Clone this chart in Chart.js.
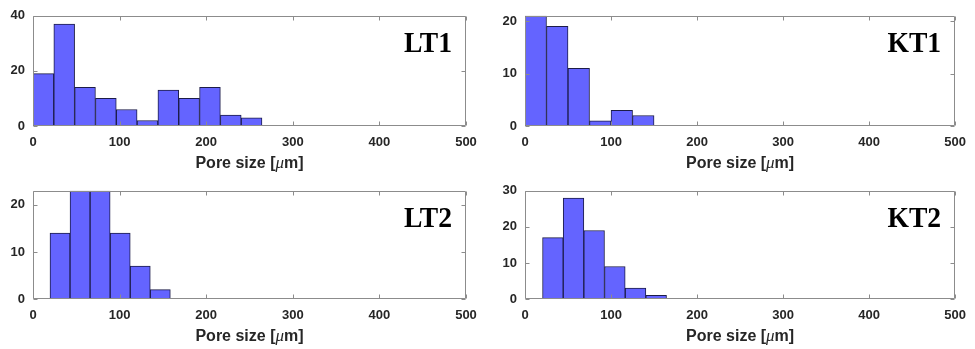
<!DOCTYPE html>
<html>
<head>
<meta charset="utf-8">
<script src="https://cdn.jsdelivr.net/npm/chart.js@4.4.0/dist/chart.umd.min.js"></script>
<style>
  html, body { margin: 0; padding: 0; background: #ffffff; }
  #wrap { position: relative; width: 975px; height: 349px; overflow: hidden; }
  .panel { position: absolute; }
</style>
</head>
<body>
<div id="wrap">
  <canvas class="panel" id="lt1" width="487" height="175" style="left:0px;top:0px"></canvas>
  <canvas class="panel" id="kt1" width="488" height="175" style="left:487px;top:0px"></canvas>
  <canvas class="panel" id="lt2" width="487" height="174" style="left:0px;top:175px"></canvas>
  <canvas class="panel" id="kt2" width="488" height="174" style="left:487px;top:175px"></canvas>
</div>
<script>
// Pore size histograms, bin edges in um and counts per bin
var lt1Edges = [0, 24, 48.1, 72.1, 96.2, 120.2, 144.2, 168.3, 192.3, 216.4, 240.4, 264.4];
var lt1Counts = [19, 37, 14, 10, 6, 2, 13, 10, 14, 4, 3];

var kt1Edges = [0, 25, 50, 75, 100, 125, 150];
var kt1Counts = [21, 19, 11, 1, 3, 2];

var lt2Edges = [19.6, 42.8, 65.9, 89.1, 112.3, 135.4, 158.6];
var lt2Counts = [14, 23, 23, 14, 7, 2];

var kt2Edges = [20.4, 44.4, 68.4, 92.4, 116.5, 140.5, 164.5];
var kt2Counts = [17, 28, 19, 9, 3, 1];

var xTicks = [0, 100, 200, 300, 400, 500];
var lt1YTicks = [0, 20, 40];
var kt1YTicks = [0, 10, 20];
var lt2YTicks = [0, 10, 20];
var kt2YTicks = [0, 10, 20, 30];

var BAR_FILL = '#6464ff';
var BAR_EDGE = '#1c1c48';
var BOX_COLOR = '#8c8c8c';
var TEXT_COLOR = '#262626';
var SANS = '"Liberation Sans", Arial, sans-serif';
var SERIF = '"Liberation Serif", "Times New Roman", serif';

// Draws the MATLAB style axes box with inward ticks, the x title and the sample name
var matlabAxes = {
  id: 'matlabAxes',
  afterDatasetsDraw: function(chart) {
    var ctx = chart.ctx;
    var a = chart.chartArea;
    var xs = chart.scales.x, ys = chart.scales.y;
    var L = Math.round(a.left) + 0.5, R = Math.round(a.right) - 0.5;
    var T = Math.round(a.top) + 0.5, B = Math.round(a.bottom) - 0.5;
    ctx.save();
    ctx.strokeStyle = BOX_COLOR;
    ctx.lineWidth = 1;
    ctx.beginPath();
    ctx.rect(L, T, R - L, B - T);
    xs.ticks.forEach(function(t) {
      var px = Math.round(xs.getPixelForValue(t.value)) + 0.5;
      ctx.moveTo(px, B); ctx.lineTo(px, B - 4);
      ctx.moveTo(px, T); ctx.lineTo(px, T + 4);
    });
    ys.ticks.forEach(function(t) {
      var py = Math.round(ys.getPixelForValue(t.value)) + 0.5;
      ctx.moveTo(L, py); ctx.lineTo(L + 4, py);
      ctx.moveTo(R, py); ctx.lineTo(R - 4, py);
    });
    ctx.stroke();
    ctx.restore();
  },
  afterDraw: function(chart, args, opts) {
    var ctx = chart.ctx;
    var a = chart.chartArea;
    ctx.save();
    // x axis title with italic mu
    var p1 = 'Pore size [', p2 = '\u03bc', p3 = 'm]';
    var fB = 'bold 16px ' + SANS, fI = 'italic 17px ' + SERIF;
    ctx.font = fB; var w1 = ctx.measureText(p1).width; var w3 = ctx.measureText(p3).width;
    ctx.font = fI; var w2 = ctx.measureText(p2).width;
    var x0 = (a.left + a.right) / 2 - (w1 + w2 + w3) / 2;
    var by = a.bottom + 42;
    ctx.fillStyle = TEXT_COLOR;
    ctx.textBaseline = 'alphabetic';
    ctx.textAlign = 'left';
    ctx.font = fB; ctx.fillText(p1, x0, by);
    ctx.font = fI; ctx.fillText(p2, x0 + w1, by);
    ctx.font = fB; ctx.fillText(p3, x0 + w1 + w2, by);
    // sample name in the top right corner
    ctx.fillStyle = '#000000';
    ctx.font = 'bold 30px ' + SERIF;
    ctx.textAlign = 'right';
    ctx.translate(a.right - 14, a.top + 36);
    ctx.scale(0.92, 1);
    ctx.fillText(opts.name, 0, 0);
    ctx.restore();
  }
};

function centersOf(edges) {
  var c = [];
  for (var i = 0; i < edges.length - 1; i++) c.push((edges[i] + edges[i + 1]) / 2);
  return c;
}

function makeHist(id, name, edges, counts, yMax, yTicks, yAxisWidth, rightPad, xAxisHeight) {
  var centers = centersOf(edges);
  var pts = [];
  for (var i = 0; i < counts.length; i++) pts.push({ x: centers[i], y: counts[i] });
  var tickFont = { family: SANS, size: 13, weight: 'bold' };
  return new Chart(document.getElementById(id), {
    type: 'bar',
    data: {
      datasets: [{
        data: pts,
        backgroundColor: BAR_FILL,
        borderColor: BAR_EDGE,
        borderWidth: 1,
        borderSkipped: false,
        barPercentage: 1,
        categoryPercentage: 1
      }]
    },
    options: {
      responsive: false,
      animation: false,
      layout: { padding: { top: 15, right: rightPad, left: 0, bottom: 0 } },
      plugins: {
        legend: { display: false },
        tooltip: { enabled: false },
        matlabAxes: { name: name }
      },
      scales: {
        x: {
          type: 'linear', min: 0, max: 500, offset: false,
          grid: { display: false, drawTicks: false },
          border: { display: false },
          ticks: { font: tickFont, color: TEXT_COLOR, padding: 9, maxRotation: 0, autoSkip: false },
          afterBuildTicks: function(s) { s.ticks = xTicks.map(function(v) { return { value: v }; }); },
          afterFit: function(s) { s.height = xAxisHeight; }
        },
        y: {
          type: 'linear', min: 0, max: yMax,
          grid: { display: false, drawTicks: false },
          border: { display: false },
          ticks: { font: tickFont, color: TEXT_COLOR, padding: 8 },
          afterBuildTicks: function(s) { s.ticks = yTicks.map(function(v) { return { value: v }; }); },
          afterFit: function(s) { s.width = yAxisWidth; }
        }
      }
    },
    plugins: [matlabAxes]
  });
}

makeHist('lt1', 'LT1', lt1Edges, lt1Counts, 40, lt1YTicks, 33, 21, 49);
makeHist('kt1', 'KT1', kt1Edges, kt1Counts, 21, kt1YTicks, 38, 16, 49);
makeHist('lt2', 'LT2', lt2Edges, lt2Counts, 23, lt2YTicks, 33, 21, 50);
makeHist('kt2', 'KT2', kt2Edges, kt2Counts, 30, kt2YTicks, 38, 16, 50);
</script>
</body>
</html>
